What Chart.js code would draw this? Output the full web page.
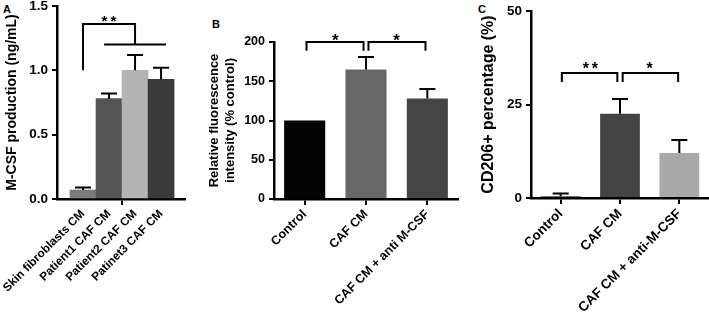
<!DOCTYPE html>
<html><head><meta charset="utf-8">
<script src="https://cdn.jsdelivr.net/npm/chart.js@4"></script>
<style>
html,body{margin:0;padding:0;background:#fff;width:709px;height:320px;overflow:hidden;}
canvas{position:absolute;top:0;}
.lbl{position:absolute;font:bold 11px "Liberation Sans",Arial,sans-serif;line-height:11px;color:#000;}
</style></head><body>
<div class="lbl" style="left:3px;top:4px">A</div>
<div class="lbl" style="left:212px;top:19px">B</div>
<div class="lbl" style="left:478px;top:4px">C</div>
<canvas id="cA" style="left:0px" width="200" height="320"></canvas>
<canvas id="cB" style="left:200px" width="268" height="320"></canvas>
<canvas id="cC" style="left:468px" width="241" height="320"></canvas>
<script>
// ---- data ----
const catA = ['Skin fibroblasts CM', 'Patient1 CAF CM', 'Patient2 CAF CM', 'Patinet3 CAF CM'];
const valA = [0.07, 0.78, 1.00, 0.93];
const errA = [0.02, 0.04, 0.12, 0.09];
const ticksA = [0, 0.5, 1.0, 1.5];

const catB = ['Control', 'CAF CM', 'CAF CM + anti M-CSF'];
const valB = [100, 165, 128];
const errB = [0, 16, 12];
const ticksB = [0, 50, 100, 150, 200];

const catC = ['Control', 'CAF CM', 'CAF CM + anti-M-CSF'];
const valC = [0.5, 22.5, 12];
const errC = [0.7, 4, 3.5];
const ticksC = [0, 25, 50];

// ---- styles ----
const colA = ['#7b7b7b', '#555555', '#b4b4b4', '#3a3a3a'];
const colB = ['#030303', '#676767', '#454545'];
const colC = ['#444444', '#444444', '#a9a9a9'];
const FAM = '"Liberation Sans", Arial, Helvetica, sans-serif';
Chart.defaults.font.family = FAM;
Chart.defaults.font.weight = 'bold';
Chart.defaults.color = '#000';

function drawErr(chart, xs, vals, errs, cap) {
  const ctx = chart.ctx, x = chart.scales.x, y = chart.scales.y;
  ctx.save();
  ctx.strokeStyle = '#000'; ctx.lineWidth = 2;
  vals.forEach((v, i) => {
    if (!errs[i]) return;
    const px = x.getPixelForValue(xs[i]);
    const p0 = y.getPixelForValue(v), p1 = y.getPixelForValue(v + errs[i]);
    ctx.beginPath();
    ctx.moveTo(px, p0); ctx.lineTo(px, p1);
    ctx.moveTo(px - cap, p1); ctx.lineTo(px + cap, p1);
    ctx.stroke();
  });
  ctx.restore();
}
function stars(chart, xv, yv, n, size, gap) {
  const ctx = chart.ctx;
  const px = chart.scales.x.getPixelForValue(xv), py = chart.scales.y.getPixelForValue(yv);
  ctx.save();
  ctx.fillStyle = '#000';
  ctx.font = 'bold ' + size + 'px ' + FAM;
  ctx.textAlign = 'center'; ctx.textBaseline = 'alphabetic';
  for (let k = 0; k < n; k++) {
    ctx.fillText('*', px + (k - (n - 1) / 2) * gap, py + size * 0.62);
  }
  ctx.restore();
}
function bracket(chart, x1, x2, yTop, yDrop) {
  const ctx = chart.ctx, X = chart.scales.x, Y = chart.scales.y;
  const a = X.getPixelForValue(x1), b = X.getPixelForValue(x2);
  const t = Y.getPixelForValue(yTop), d = Y.getPixelForValue(yDrop);
  ctx.save(); ctx.strokeStyle = '#000'; ctx.lineWidth = 2;
  ctx.beginPath();
  ctx.moveTo(a, d); ctx.lineTo(a, t); ctx.lineTo(b, t); ctx.lineTo(b, d);
  ctx.stroke(); ctx.restore();
}

function yAxis(min, max, tickVals, fmt, tsize, title, tfont, tpad, width, lh) {
  return {
    min: min, max: max,
    afterBuildTicks: s => { s.ticks = tickVals.map(v => ({ value: v })); },
    ticks: { callback: fmt, font: { size: tsize, weight: 'bold' }, color: '#000', padding: 4 },
    grid: { display: true, drawOnChartArea: false, drawTicks: true, tickLength: 5, lineWidth: 2, color: '#000' },
    border: { display: true, color: '#000', width: 2.5 },
    title: { display: true, text: title, color: '#000', font: { size: tfont, weight: 'bold', lineHeight: lh || 1.2 }, padding: { top: tpad, bottom: 0 } },
    afterFit: s => { s.width = width; s.paddingTop = 0; s.paddingBottom = 0; }
  };
}

// ---- Panel A ----
new Chart(document.getElementById('cA'), {
  type: 'bar',
  data: { datasets: [{ data: valA.map((v, i) => ({ x: i + 1, y: v })), backgroundColor: colA, borderWidth: 0, barThickness: 26 }] },
  options: {
    responsive: false, animation: false, events: [],
    layout: { padding: { top: 6, right: 15, left: 0, bottom: 0 } },
    plugins: { legend: { display: false }, tooltip: { enabled: false } },
    scales: {
      x: {
        type: 'linear', min: 0, max: 4.92, offset: false,
        afterBuildTicks: s => { s.ticks = [1, 2, 2.5, 3, 4].map(v => ({ value: v })); },
        ticks: { autoSkip: false, maxRotation: 45, minRotation: 45, padding: 2, font: { size: 11.8, weight: 'bold' }, color: '#000',
          callback: v => Number.isInteger(v) ? catA[v - 1] : '' },
        grid: { display: true, drawOnChartArea: false, offset: false, tickLength: 6, lineWidth: 2,
          color: c => (c.tick && c.tick.value === 2.5) ? '#000' : 'rgba(0,0,0,0)' },
        border: { display: true, color: '#000', width: 2.5 },
        afterFit: s => { s.height = 121; s.paddingLeft = 0; s.paddingRight = 0; }
      },
      y: yAxis(0, 1.5, ticksA, v => v.toFixed(1), 13.5, 'M-CSF production (ng/mL)', 14, 4, 57)
    }
  },
  plugins: [{
    id: 'annA',
    afterDatasetsDraw(chart) {
      drawErr(chart, [1, 2, 3, 4], valA, errA, 8);
      const ctx = chart.ctx, X = chart.scales.x, Y = chart.scales.y;
      ctx.save(); ctx.strokeStyle = '#000'; ctx.lineWidth = 2;
      ctx.beginPath();
      ctx.moveTo(X.getPixelForValue(1), Y.getPixelForValue(1.0));
      ctx.lineTo(X.getPixelForValue(1), Y.getPixelForValue(1.36));
      ctx.lineTo(X.getPixelForValue(3), Y.getPixelForValue(1.36));
      ctx.lineTo(X.getPixelForValue(3), Y.getPixelForValue(1.2));
      ctx.moveTo(X.getPixelForValue(1.81), Y.getPixelForValue(1.2));
      ctx.lineTo(X.getPixelForValue(4.19), Y.getPixelForValue(1.2));
      ctx.stroke(); ctx.restore();
      stars(chart, 2, 1.42, 2, 15, 9);
    }
  }]
});

// ---- Panel B ----
new Chart(document.getElementById('cB'), {
  type: 'bar',
  data: { labels: catB, datasets: [{ data: valB, backgroundColor: colB, borderWidth: 0, barPercentage: 0.67, categoryPercentage: 1 }] },
  options: {
    responsive: false, animation: false, events: [],
    layout: { padding: { top: 42, right: 10, left: 0, bottom: 0 } },
    plugins: { legend: { display: false }, tooltip: { enabled: false } },
    scales: {
      x: {
        ticks: { autoSkip: false, maxRotation: 45, minRotation: 45, padding: 2, font: { size: 12.5, weight: 'bold' }, color: '#000' },
        grid: { display: true, drawOnChartArea: false, offset: false, tickLength: 6, lineWidth: 2, color: '#000' },
        border: { display: true, color: '#000', width: 2.5 },
        afterFit: s => { s.height = 121; s.paddingLeft = 0; s.paddingRight = 0; }
      },
      y: yAxis(0, 200, ticksB, v => String(v), 12.5, ['Relative fluorescence', 'intensity (% control)'], 13, 7, 74, 1.2)
    }
  },
  plugins: [{
    id: 'annB',
    afterDatasetsDraw(chart) {
      drawErr(chart, [0, 1, 2], valB, errB, 8);
      bracket(chart, 0.03, 0.96, 200, 189);
      bracket(chart, 1.04, 1.97, 200, 189);
      stars(chart, 0.5, 208, 1, 17, 0);
      stars(chart, 1.5, 208, 1, 17, 0);
    }
  }]
});

// ---- Panel C ----
new Chart(document.getElementById('cC'), {
  type: 'bar',
  data: { labels: catC, datasets: [{ data: valC, backgroundColor: colC, borderWidth: 0, barPercentage: 0.67, categoryPercentage: 1 }] },
  options: {
    responsive: false, animation: false, events: [],
    layout: { padding: { top: 11, right: 0, left: 0, bottom: 0 } },
    plugins: { legend: { display: false }, tooltip: { enabled: false } },
    scales: {
      x: {
        ticks: { autoSkip: false, maxRotation: 45, minRotation: 45, padding: 2, font: { size: 13.5, weight: 'bold' }, color: '#000' },
        grid: { display: true, drawOnChartArea: false, offset: false, tickLength: 6, lineWidth: 2, color: '#000' },
        border: { display: true, color: '#000', width: 2.5 },
        afterFit: s => { s.height = 122; s.paddingLeft = 0; s.paddingRight = 0; }
      },
      y: yAxis(0, 50, ticksC, v => String(v), 13.5, 'CD206+ percentage (%)', 16, 11, 63)
    }
  },
  plugins: [{
    id: 'annC',
    afterDatasetsDraw(chart) {
      drawErr(chart, [0, 1, 2], valC, errC, 8);
      bracket(chart, 0.02, 0.955, 33.4, 31);
      bracket(chart, 1.045, 1.98, 33.4, 31);
      stars(chart, 0.5, 35.8, 2, 16, 9);
      stars(chart, 1.5, 35.8, 1, 16, 0);
    }
  }]
});
</script>
</body></html>
